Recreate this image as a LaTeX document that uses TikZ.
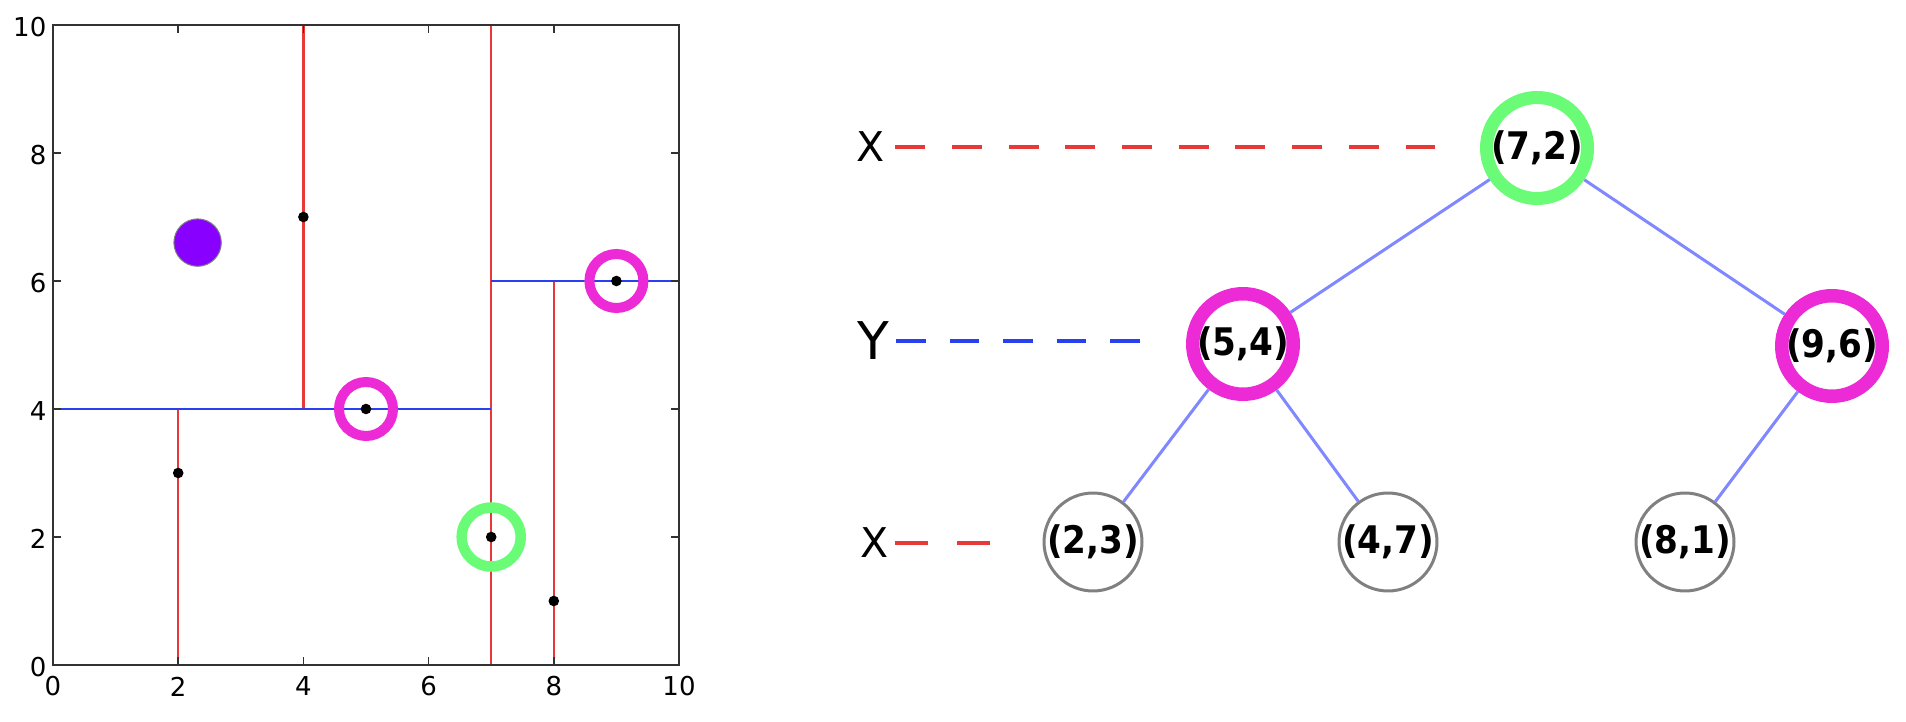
\documentclass[tikz,border=0pt]{standalone}
\usepackage{fontspec}
\setmainfont{DejaVu Sans}
\newfontfamily\nodefont[FakeStretch=0.9]{DejaVu Sans}
\definecolor{kdred}{RGB}{232,56,56}
\definecolor{kdblue}{RGB}{40,64,240}
\definecolor{edgeblue}{RGB}{128,136,255}
\definecolor{ringmag}{RGB}{236,42,214}
\definecolor{ringgreen}{RGB}{106,252,118}
\definecolor{ringgray}{RGB}{128,128,128}
\definecolor{dotpurple}{RGB}{136,0,255}
\definecolor{axisgray}{RGB}{50,50,50}
\tikzset{
  treenode/.style={circle, inner sep=0pt, fill=white, font=\nodefont\bfseries\fontsize{38}{38}\selectfont},
  greennode/.style={treenode, draw=ringgreen, line width=13pt, minimum size=101pt},
  magnode/.style={treenode, draw=ringmag, line width=13.5pt, minimum size=100.5pt},
  leafnode/.style={treenode, draw=ringgray, line width=3pt, minimum size=97pt},
  treeedge/.style={draw=edgeblue, line width=3pt},
  lvl/.style={inner sep=0pt, font=\fontsize{41}{41}\selectfont},
  lvlbig/.style={inner sep=0pt, font=\fontsize{52}{52}\selectfont},
  dashred/.style={draw=kdred, line width=3.5pt},
  dashblue/.style={draw=kdblue, line width=3.5pt},
  splitred/.style={draw=kdred, line width=2.5pt},
  splitblue/.style={draw=kdblue, line width=2.5pt},
  tick/.style={draw=axisgray, line width=1.5pt},
  ticklbl/.style={inner sep=0pt, font=\fontsize{26}{26}\selectfont},
  magring/.style={draw=ringmag, line width=10pt},
  greenring/.style={draw=ringgreen, line width=10.5pt},
  dot/.style={fill=black}
}
\begin{document}
\begin{tikzpicture}[x=1pt, y=-1pt]
\useasboundingbox (0,0) rectangle (1906,722);
% ---------------- plot ----------------
\begin{scope}[shift={(53,665)}, x=62.6pt, y=64pt]
  \draw[splitred] (2,0) -- (2,4);
  \draw[splitred] (4,4) -- (4,10);
  \draw[splitred] (7,0) -- (7,10);
  \draw[splitred] (8,0) -- (8,6);
  \draw[splitblue] (0,4) -- (7,4);
  \draw[splitblue] (7,6) -- (10,6);
  \filldraw[fill=dotpurple, draw=gray, line width=1pt] (2.31,6.6) circle[radius=23.7pt];
  \draw[magring] (5,4) circle[radius=27pt];
  \draw[magring] (9,6) circle[radius=27pt];
  \draw[greenring] (7,2) circle[radius=29.5pt];
  \foreach \p in {(2,3),(4,7),(5,4),(7,2),(8,1),(9,6)}
    \fill[dot] \p circle[radius=5.3pt];
  \foreach \t in {2,4,6,8}{
    \draw[tick] (\t,0) -- ++(0,8pt);
    \draw[tick] (\t,10) -- ++(0,-8pt);
    \draw[tick] (0,\t) -- ++(8pt,0);
    \draw[tick] (10,\t) -- ++(-8pt,0);
  }
  \draw[axisgray, line width=2.5pt] (0,0) rectangle (10,10);
  \foreach \t in {0,2,4,6,8,10}{
    \node[ticklbl, yshift=-21.5pt] at (\t,0) {\t};
    \node[ticklbl, anchor=east, xshift=-6.5pt, yshift=-2pt] at (0,\t) {\t};
  }
\end{scope}
% ---------------- tree ----------------
\node[greennode] (n72) at (1537,148) {(7,2)};
\node[magnode] (n54) at (1243,344) {(5,4)};
\node[magnode] (n96) at (1832,346) {(9,6)};
\node[leafnode] (n23) at (1093,542) {(2,3)};
\node[leafnode] (n47) at (1388,542) {(4,7)};
\node[leafnode] (n81) at (1685,542) {(8,1)};
\draw[treeedge] (n72) -- (n54);
\draw[treeedge] (n72) -- (n96);
\draw[treeedge] (n54) -- (n23);
\draw[treeedge] (n54) -- (n47);
\draw[treeedge] (n96) -- (n81);
% ---------------- level labels ----------------
\node[lvl] (lx1) at (870.5,147) {X};
\node[lvlbig] (ly) at (873,341) {Y};
\node[lvl] (lx3) at (875,543) {X};
\coordinate (ex1) at (1435,147);
\coordinate (ey) at (1140,341);
\coordinate (ex3) at (992,543);
\draw[dashred, dash pattern=on 30pt off 26.7pt, shorten <=10.5pt] (lx1.east) -- (ex1);
\draw[dashblue, dash pattern=on 29.5pt off 24pt, shorten <=7pt] (ly.east) -- (ey);
\draw[dashred, dash pattern=on 33pt off 29pt, shorten <=6pt] (lx3.east) -- (ex3);
\end{tikzpicture}
\end{document}
